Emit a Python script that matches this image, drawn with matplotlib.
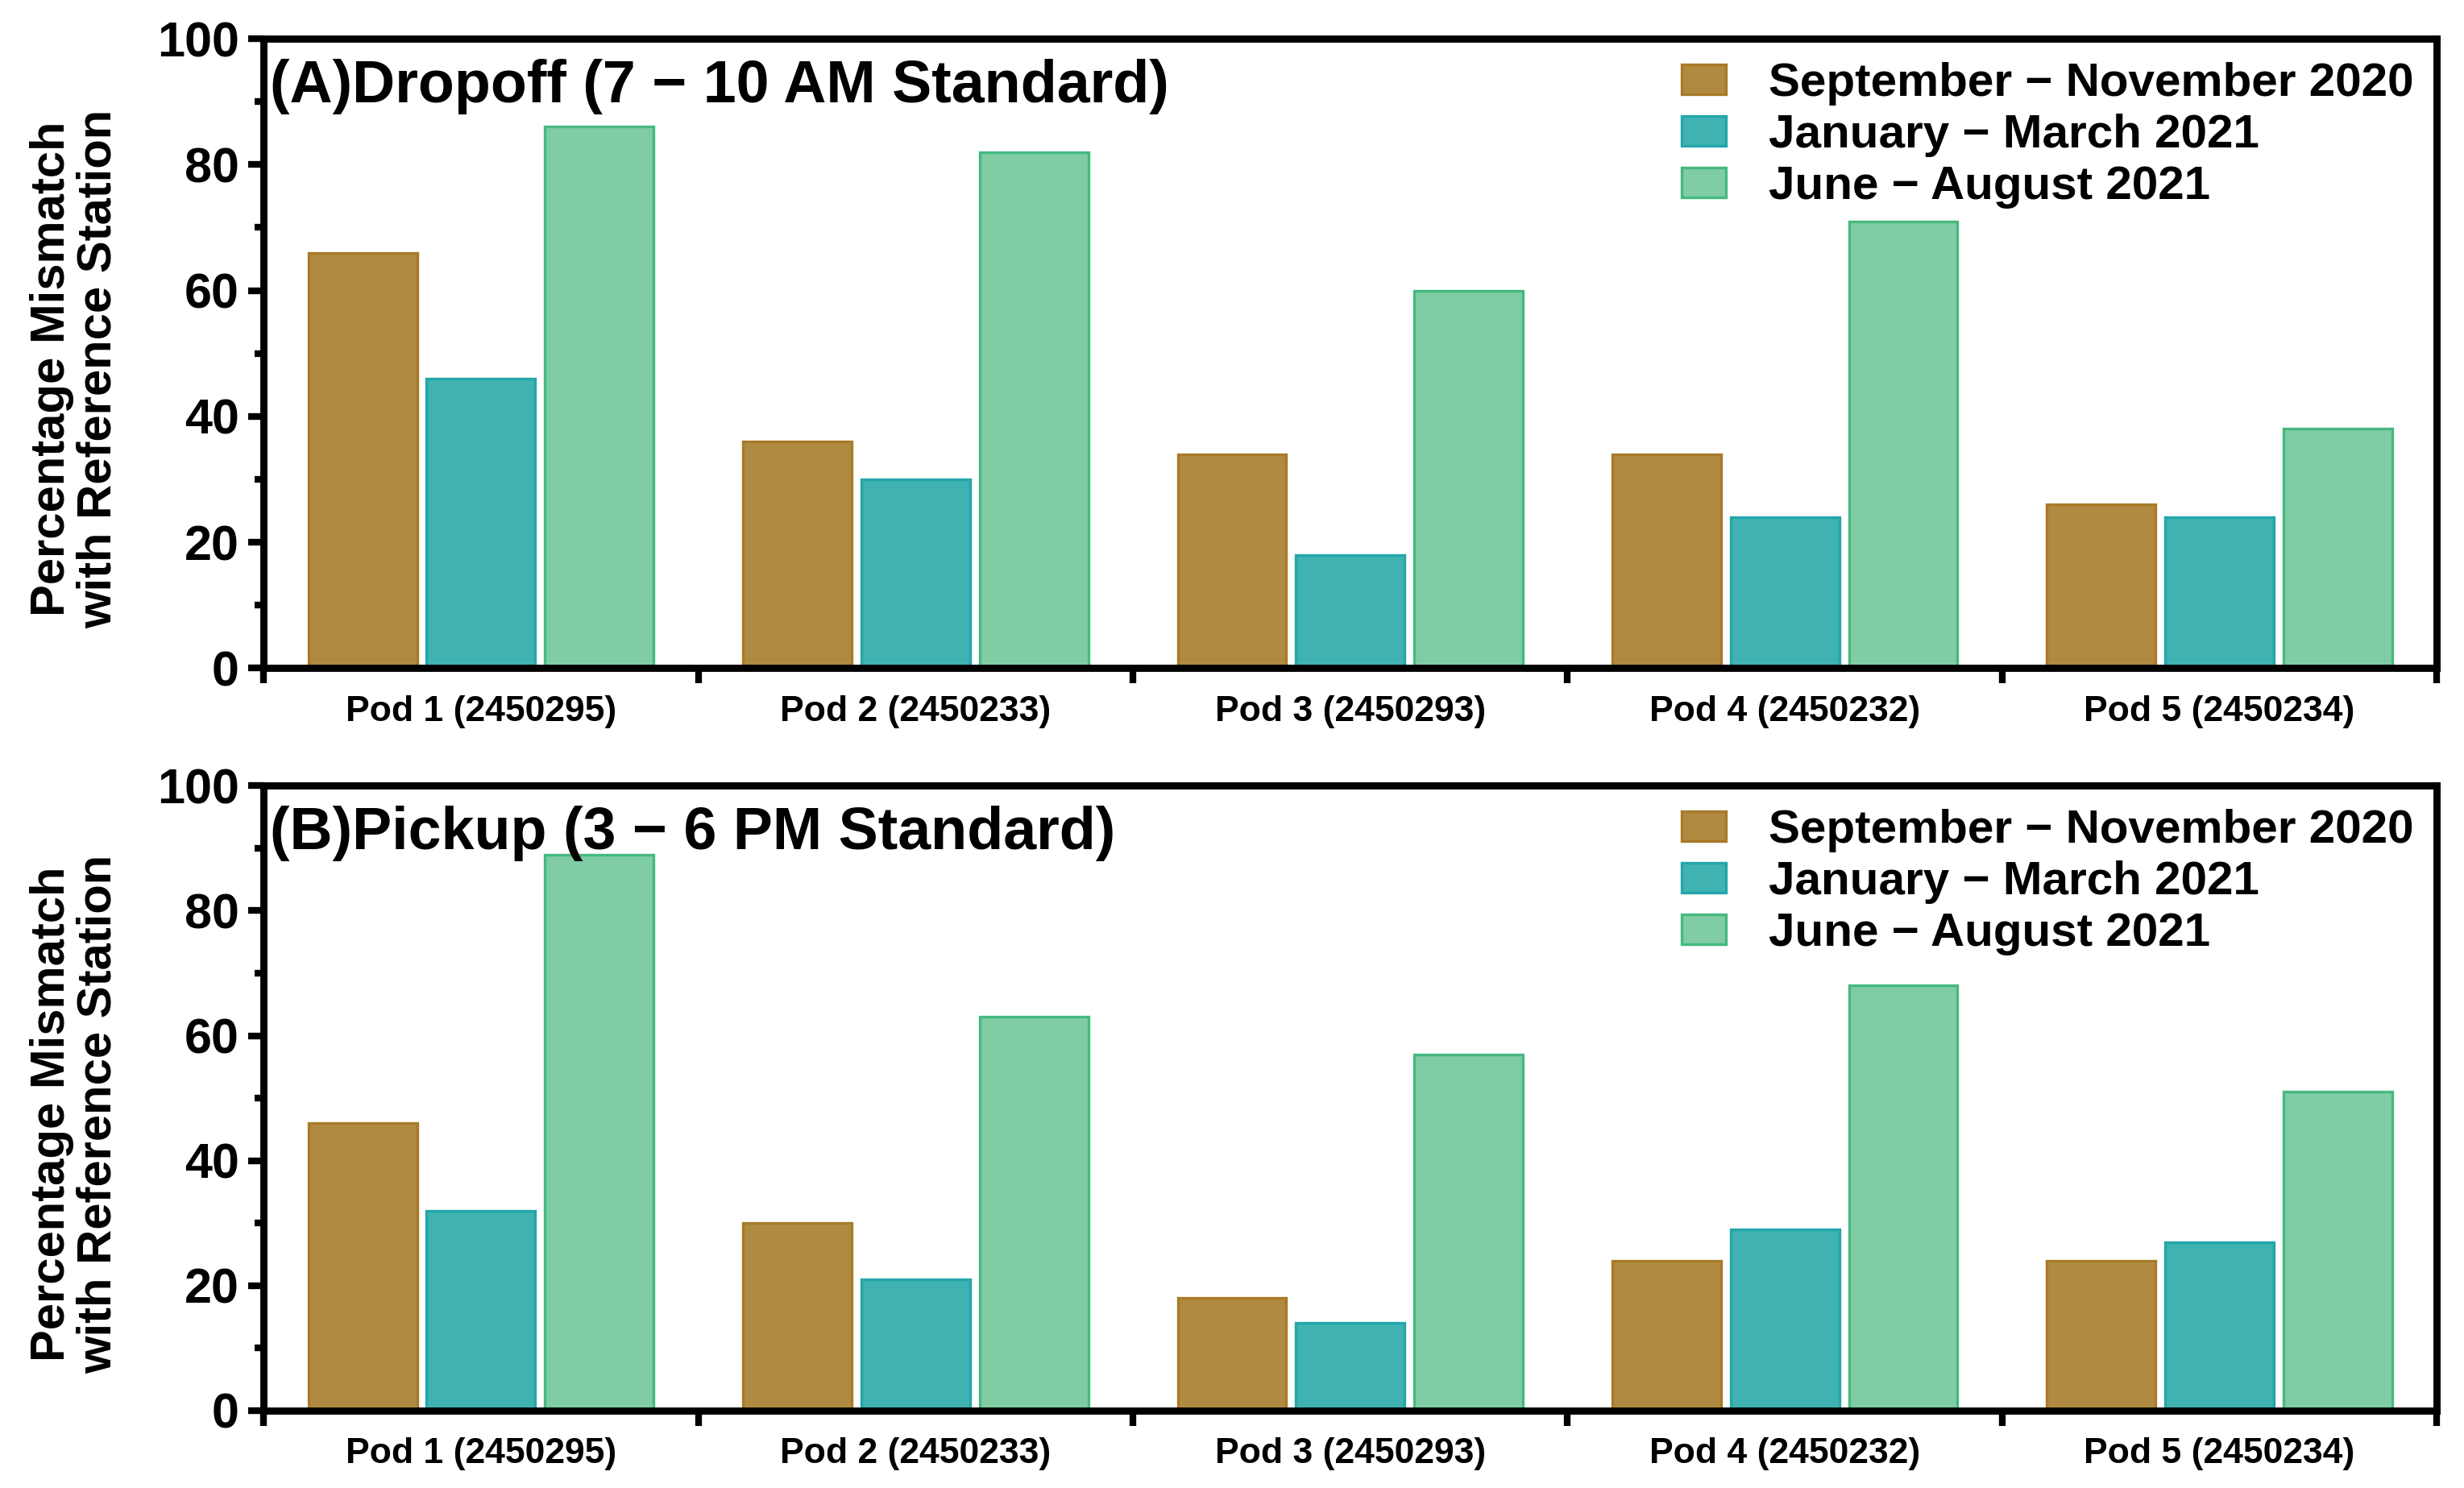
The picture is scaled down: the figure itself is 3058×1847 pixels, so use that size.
import numpy as np
import matplotlib
matplotlib.use("Agg")
import matplotlib.pyplot as plt
from matplotlib.ticker import MultipleLocator

plt.rcParams['font.family'] = ['Liberation Sans', 'DejaVu Sans']
plt.rcParams['font.weight'] = 'bold'

# data
pods = ["Pod 1 (2450295)", "Pod 2 (2450233)", "Pod 3 (2450293)",
        "Pod 4 (2450232)", "Pod 5 (2450234)"]
seasons = ["September − November 2020", "January − March 2021", "June − August 2021"]

dropoff_sep_nov = [66, 36, 34, 34, 26]
dropoff_jan_mar = [46, 30, 18, 24, 24]
dropoff_jun_aug = [86, 82, 60, 71, 38]

pickup_sep_nov = [46, 30, 18, 24, 24]
pickup_jan_mar = [32, 21, 14, 29, 27]
pickup_jun_aug = [89, 63, 57, 68, 51]

panel_titles = ["(A)Dropoff (7 − 10 AM Standard)", "(B)Pickup (3 − 6 PM Standard)"]

fill_colors = ["#b08a40", "#40b2b2", "#80cca5"]
edge_colors = ["#a87a28", "#22a6aa", "#45b97f"]


def draw_panel(ax, series, title):
    x = np.arange(len(pods))
    width = 0.25
    offsets = [-0.272, 0.0, 0.272]
    for vals, off, fc, ec, lab in zip(series, offsets, fill_colors, edge_colors, seasons):
        ax.bar(x + off, vals, width, color=fc, edgecolor=ec, linewidth=1.2, label=lab)

    ax.set_xlim(-0.5, len(pods) - 0.5)
    ax.set_ylim(0, 100)

    # major x ticks at group borders, labels at group centres
    ax.set_xticks(np.arange(-0.5, len(pods), 1.0))
    ax.set_xticklabels([])
    ax.set_xticks(x, pods, minor=True)
    ax.tick_params(axis='x', which='major', direction='out', length=7, width=3)
    ax.tick_params(axis='x', which='minor', length=0, pad=12, labelsize=16)

    ax.set_yticks(np.arange(0, 101, 20))
    ax.yaxis.set_minor_locator(MultipleLocator(10))
    ax.tick_params(axis='y', which='major', direction='out', length=7, width=3,
                   labelsize=22, pad=4)
    ax.tick_params(axis='y', which='minor', direction='out', length=4, width=3)

    for sp in ax.spines.values():
        sp.set_linewidth(3.2)

    ax.set_ylabel("Percentage Mismatch\nwith Reference Station", fontsize=21.5,
                  fontweight='bold', linespacing=1.05)
    ax.yaxis.set_label_coords(-0.066, 0.475)

    ax.text(0.003, 0.968, title, transform=ax.transAxes, ha='left', va='top',
            fontsize=26.5, fontweight='bold')

    ax.legend(loc='upper right', frameon=False, fontsize=21, handlelength=0.95,
              handleheight=0.6, handletextpad=0.9, labelspacing=0.17,
              borderaxespad=0.3, borderpad=0.2)


fig = plt.figure(figsize=(15.29, 9.235), dpi=200)
ax1 = fig.add_axes([0.107, 0.551, 0.882, 0.423])
ax2 = fig.add_axes([0.107, 0.052, 0.882, 0.420])

draw_panel(ax1, [dropoff_sep_nov, dropoff_jan_mar, dropoff_jun_aug], panel_titles[0])
draw_panel(ax2, [pickup_sep_nov, pickup_jan_mar, pickup_jun_aug], panel_titles[1])

fig.savefig("out.png", dpi=200)
